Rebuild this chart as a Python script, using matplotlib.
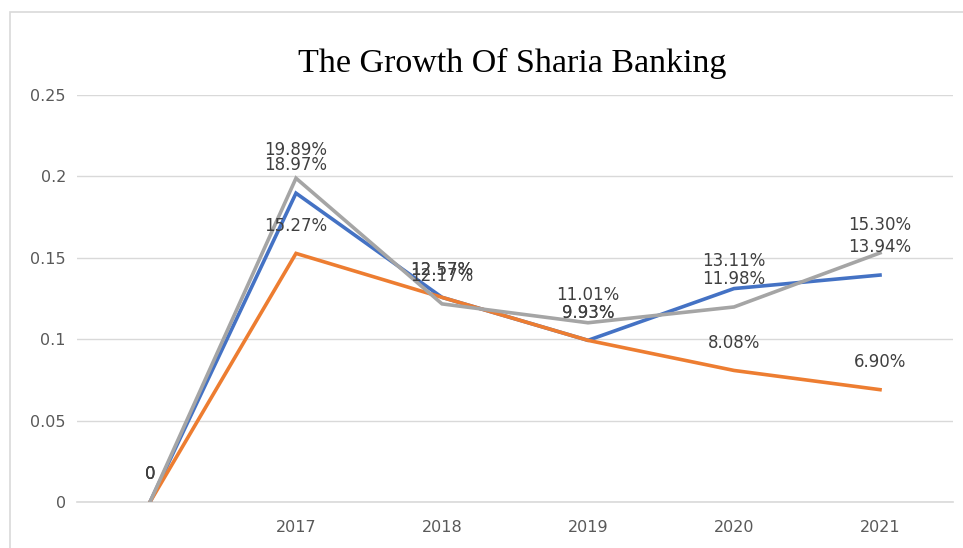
import matplotlib.pyplot as plt

# yearly growth of sharia banking, three series
years = ["", "2017", "2018", "2019", "2020", "2021"]
blue_vals = [0, 0.1897, 0.1257, 0.0993, 0.1311, 0.1394]
orange_vals = [0, 0.1527, 0.1257, 0.0993, 0.0808, 0.0690]
gray_vals = [0, 0.1989, 0.1217, 0.1101, 0.1198, 0.1530]

yticks = [0, 0.05, 0.1, 0.15, 0.2, 0.25]
ytick_labels = ["0", "0.05", "0.1", "0.15", "0.2", "0.25"]

label_font = ['Liberation Sans Narrow', 'DejaVu Sans']

fig = plt.figure(figsize=(9.63, 5.48), dpi=100)
ax = fig.add_axes([77 / 963, 1 - 502 / 548, 876 / 963, 407 / 548])

# light frame around the whole chart
frame = plt.Rectangle((10 / 963, -0.1), 1.2, 1 - 12 / 548 + 0.1, transform=fig.transFigure,
                      fill=False, edgecolor="#d9d9d9", linewidth=1.2)
fig.patches.append(frame)

x = list(range(len(years)))
series = [(blue_vals, "#4472C4"), (orange_vals, "#ED7D31"), (gray_vals, "#A5A5A5")]
for vals, color in series:
    ax.plot(x, vals, color=color, linewidth=2.6, solid_joinstyle="miter", zorder=3)

# value labels above each point
for vals, color in series:
    for i, v in zip(x, vals):
        text = "0" if v == 0 else "{:.2f}%".format(v * 100)
        ax.annotate(text, (i, v), xytext=(0, 20), textcoords="offset points",
                    ha="center", va="center", fontsize=12, color="#404040",
                    family=label_font, zorder=4)

ax.set_xlim(-0.5, 5.5)
ax.set_ylim(0, 0.25)
ax.set_yticks(yticks)
ax.set_yticklabels(ytick_labels, family=label_font)
ax.set_xticks(x)
ax.set_xticklabels(years, family=label_font)
ax.tick_params(axis="both", length=0, labelsize=11.5, labelcolor="#595959")
ax.tick_params(axis="x", pad=13)
ax.tick_params(axis="y", pad=8)
ax.grid(axis="y", color="#d9d9d9", linewidth=1)
ax.axhline(0, color="#d9d9d9", linewidth=1.2, clip_on=False, zorder=1)
ax.set_axisbelow(True)
for side in ["top", "right", "left", "bottom"]:
    ax.spines[side].set_visible(False)

fig.text(512 / 963, 1 - 63 / 548, "The Growth Of Sharia Banking", ha="center", va="center",
         fontsize=24.5, family="Liberation Serif", color="black")

fig.savefig("out.png", dpi=100)
